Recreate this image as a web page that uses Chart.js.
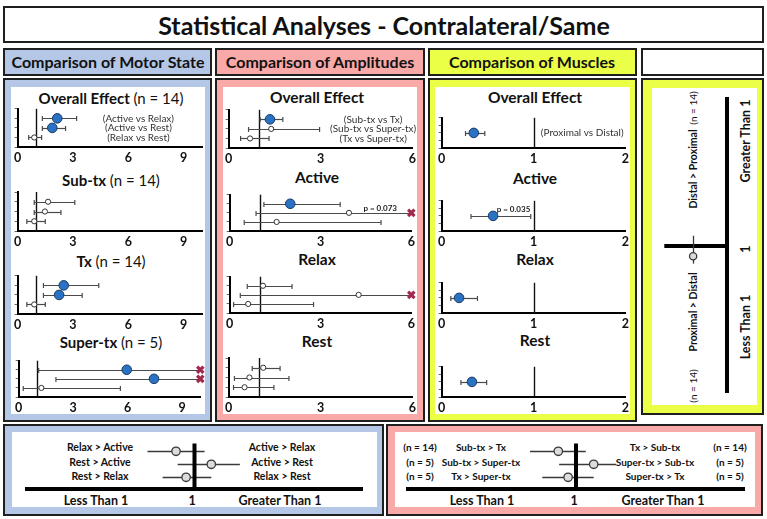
<!DOCTYPE html>
<html><head><meta charset="utf-8">
<script src="https://cdn.jsdelivr.net/npm/chart.js@4.4.1/dist/chart.umd.min.js"></script>
<style>
body{margin:0;width:767px;height:519px;position:relative;background:#fff;font-family:Lato,"Noto Sans",sans-serif;overflow:hidden;color:#111;}
.box{position:absolute;box-sizing:border-box;border:2px solid #1f1f1f;}
.inner{position:absolute;background:#fff;}
.lbl{position:absolute;white-space:nowrap;transform:translate(-50%,-50%);line-height:1;}
.rot{position:absolute;white-space:nowrap;transform:translate(-50%,-50%) rotate(-90deg);line-height:1;}
.b{font-weight:bold;}
.n{font-weight:normal;}
canvas{position:absolute;}
</style></head><body>
<div class="box" style="left:3px;top:6px;width:761px;height:37px;background:#fff"></div>
<div class="lbl b" style="left:384px;top:25px;font-size:25px;">Statistical Analyses - Contralateral/Same</div>

<div class="box" style="left:3px;top:48px;width:209px;height:28px;background:#b4c7e7"></div>
<div class="box" style="left:215px;top:48px;width:210px;height:28px;background:#f8a9a8"></div>
<div class="box" style="left:428px;top:48px;width:209px;height:28px;background:#ebff47"></div>
<div class="box" style="left:641px;top:48px;width:123px;height:28px;background:#fff"></div>
<div class="lbl b" style="left:108px;top:62px;font-size:16px;">Comparison of Motor State</div>
<div class="lbl b" style="left:320px;top:62px;font-size:16px;">Comparison of Amplitudes</div>
<div class="lbl b" style="left:532px;top:62px;font-size:16px;">Comparison of Muscles</div>

<div class="box" style="left:3px;top:78px;width:209px;height:344px;background:#b4c7e7"><div class="inner" style="left:6px;top:7px;right:5px;bottom:6px"></div></div>
<div class="box" style="left:215px;top:78px;width:210px;height:344px;background:#f8a9a8"><div class="inner" style="left:6px;top:7px;right:6px;bottom:6px"></div></div>
<div class="box" style="left:428px;top:78px;width:209px;height:344px;background:#ebff47"><div class="inner" style="left:5px;top:7px;right:5px;bottom:6px"></div></div>
<div class="box" style="left:641px;top:78px;width:123px;height:337px;background:#ebff47"><div class="inner" style="left:9px;top:8px;right:5px;bottom:8px"></div></div>

<div class="box" style="left:3px;top:424px;width:381px;height:92px;background:#b4c7e7"><div class="inner" style="left:7px;top:6px;right:5px;bottom:7px"></div></div>
<div class="box" style="left:386px;top:424px;width:377px;height:92px;background:#f8a9a8"><div class="inner" style="left:7px;top:6px;right:6px;bottom:7px"></div></div>

<div id="texts"></div>

<script>
// ---------------- DATA ----------------
const xTicksMotor = [0, 3, 6, 9];
const xTicksAmp = [0, 3, 6];
const xTicksMuscle = [0, 1, 2];

const motorTitles = ['Overall Effect', 'Sub-tx', 'Tx', 'Super-tx'];
const motorN = ['(n = 14)', '(n = 14)', '(n = 14)', '(n = 5)'];
const motorRowLabels = ['(Active vs Relax)', '(Active vs Rest)', '(Relax vs Rest)'];
const motorOverallEst = [2.15, 1.88, 0.90];
const motorOverallLo  = [1.34, 1.34, 0.60];
const motorOverallHi  = [3.20, 2.60, 1.30];
const motorOverallSig = [true, true, false];
const motorSubEst = [1.65, 1.48, 0.90];
const motorSubLo  = [0.90, 0.90, 0.50];
const motorSubHi  = [3.10, 2.35, 1.50];
const motorSubSig = [false, false, false];
const motorTxEst = [2.50, 2.25, 0.90];
const motorTxLo  = [1.40, 1.40, 0.50];
const motorTxHi  = [4.40, 3.50, 1.50];
const motorTxSig = [true, true, false];
const motorSuperEst = [5.95, 7.45, 1.25];
const motorSuperLo  = [1.10, 2.05, 0.25];
const motorSuperHi  = [11.5, 12.5, 5.60];
const motorSuperSig = [true, true, false];

const ampTitles = ['Overall Effect', 'Active', 'Relax', 'Rest'];
const ampRowLabels = ['(Sub-tx vs Tx)', '(Sub-tx vs Super-tx)', '(Tx vs Super-tx)'];
const ampOverallEst = [1.35, 1.39, 0.70];
const ampOverallLo  = [1.03, 0.65, 0.39];
const ampOverallHi  = [1.77, 2.97, 1.32];
const ampOverallSig = [true, false, false];
const ampActiveEst = [2.00, 3.94, 1.55];
const ampActiveLo  = [1.13, 0.87, 0.48];
const ampActiveHi  = [3.65, 6.80, 5.00];
const ampActiveSig = [true, false, false];
const ampRelaxEst = [1.10, 4.26, 0.61];
const ampRelaxLo  = [0.58, 0.35, 0.13];
const ampRelaxHi  = [2.06, 6.80, 2.77];
const ampRelaxSig = [false, false, false];
const ampRestEst = [1.13, 0.68, 0.52];
const ampRestLo  = [0.77, 0.19, 0.16];
const ampRestHi  = [1.68, 1.97, 1.48];
const ampRestSig = [false, false, false];

const muscleTitles = ['Overall Effect', 'Active', 'Relax', 'Rest'];
const muscleRowLabels = ['(Proximal vs Distal)'];
const muscleOverallEst = [0.35], muscleOverallLo = [0.26], muscleOverallHi = [0.47];
const muscleActiveEst = [0.56],  muscleActiveLo = [0.32],  muscleActiveHi = [0.97];
const muscleRelaxEst = [0.19],   muscleRelaxLo = [0.10],   muscleRelaxHi = [0.39];
const muscleRestEst = [0.33],    muscleRestLo = [0.21],    muscleRestHi = [0.49];
const muscleSig = [true];

const pAmpActive = 'p = 0.073';
const pMuscleActive = 'p = 0.035';

// legend schematics
const keyMotorLeft  = ['Relax > Active', 'Rest > Active', 'Rest > Relax'];
const keyMotorRight = ['Active > Relax', 'Active > Rest', 'Relax > Rest'];
const keyMotorEst = [0.89, 1.10, 0.95];
const keyMotorLo  = [0.72, 0.90, 0.81];
const keyMotorHi  = [1.06, 1.27, 1.10];
const keyAmpNLeft  = ['(n = 14)', '(n = 5)', '(n = 5)'];
const keyAmpLeft   = ['Sub-tx > Tx', 'Sub-tx > Super-tx', 'Tx > Super-tx'];
const keyAmpRight  = ['Tx > Sub-tx', 'Super-tx > Sub-tx', 'Super-tx > Tx'];
const keyAmpNRight = ['(n = 14)', '(n = 5)', '(n = 5)'];
const keyAmpEst = [0.895, 1.105, 0.953];
const keyAmpLo  = [0.727, 0.900, 0.800];
const keyAmpHi  = [1.058, 1.238, 1.105];
const keyMuscleEst = [0.93], keyMuscleLo = [0.88], keyMuscleHi = [1.07];
const axisWords = ['Less Than 1', '1', 'Greater Than 1'];

// ---------------- HELPERS ----------------
const FONT = 'Lato, "Noto Sans", sans-serif';
const texts = document.getElementById('texts');
function esc(t) { return t.replace(/>/g, '&gt;'); }
function label(x, y, html, size, cls, rot) {
  const d = document.createElement('div');
  d.className = (rot ? 'rot ' : 'lbl ') + (cls || '');
  d.style.left = x + 'px'; d.style.top = y + 'px'; d.style.fontSize = size + 'px';
  d.innerHTML = html;
  texts.appendChild(d);
}
function mkCanvas(left, top, w, h) {
  const c = document.createElement('canvas');
  c.width = w; c.height = h;
  c.style.left = left + 'px'; c.style.top = top + 'px';
  c.style.width = w + 'px'; c.style.height = h + 'px';
  document.body.appendChild(c);
  return c;
}
function line(ctx, x1, y1, x2, y2) { ctx.beginPath(); ctx.moveTo(x1, y1); ctx.lineTo(x2, y2); ctx.stroke(); }

function forest(ca, s) {
  const yW = 5, padT = 4, padR = 6, xH = 18;
  const left = ca.l - yW, top = ca.t - padT;
  const w = ca.r + padR - left, h = ca.b + xH - top;
  const c = mkCanvas(left, top, w, h);
  const n = s.est.length;
  const ymax = n === 1 ? 2 : 4;
  const pts = s.est.map((v, i) => ({ x: v, y: i + 1 }));
  const clipped = [];
  s.hi.forEach((v, i) => { if (v > s.max) clipped.push({ x: s.max, y: i + 1 }); });
  const plug = {
    id: 'forestBars',
    beforeDatasetsDraw(chart) {
      const { ctx, chartArea: a, scales: { x, y } } = chart;
      ctx.save();
      ctx.strokeStyle = '#111'; ctx.lineWidth = 1.4;
      const rx = Math.round(x.getPixelForValue(1)) + 0.5;
      line(ctx, rx, a.top, rx, a.bottom);
      ctx.strokeStyle = '#4a4a4a'; ctx.lineWidth = 1.2;
      s.est.forEach((v, i) => {
        const py = Math.round(y.getPixelForValue(i + 1)) + 0.5;
        const lo = s.lo[i], hi = s.hi[i];
        const x1 = x.getPixelForValue(Math.max(lo, x.min));
        const x2 = x.getPixelForValue(Math.min(hi, x.max));
        line(ctx, x1, py, x2, py);
        if (lo >= x.min) line(ctx, x1, py - 2.5, x1, py + 2.5);
        if (hi <= x.max) line(ctx, x2, py - 2.5, x2, py + 2.5);
      });
      ctx.restore();
    },
    afterDatasetsDraw(chart) {
      const { ctx, scales: { x, y } } = chart;
      ctx.save();
      if (s.rowLabels) {
        ctx.fillStyle = '#333'; ctx.font = '10px ' + FONT;
        ctx.textAlign = 'center'; ctx.textBaseline = 'middle';
        s.rowLabels.forEach((t, i) => ctx.fillText(t, x.getPixelForValue(s.labelX), y.getPixelForValue(i + 1)));
      }
      if (s.note) {
        ctx.fillStyle = '#222'; ctx.font = 'bold 8px ' + FONT;
        ctx.textAlign = 'left'; ctx.textBaseline = 'middle';
        ctx.fillText(s.note.text, x.getPixelForValue(s.note.x), y.getPixelForValue(s.note.y));
      }
      ctx.restore();
    }
  };
  new Chart(c, {
    type: 'scatter',
    data: { datasets: [
      { data: pts, clip: false,
        pointRadius: (cx) => s.sig[cx.dataIndex] ? 4.8 : 2.6,
        pointBackgroundColor: (cx) => s.sig[cx.dataIndex] ? '#2a72c4' : '#fff',
        pointBorderColor: (cx) => s.sig[cx.dataIndex] ? '#1b3a61' : '#333',
        pointBorderWidth: 1 },
      { data: clipped, clip: false, pointStyle: 'crossRot', pointRadius: 4.5, pointBorderWidth: 3.2,
        pointBorderColor: '#a3284d', pointBackgroundColor: '#a3284d' }
    ] },
    options: {
      responsive: false, animation: false, devicePixelRatio: 1,
      layout: { padding: { left: 0, top: padT, right: padR, bottom: 0 } },
      plugins: { legend: { display: false }, tooltip: { enabled: false } },
      scales: {
        x: { type: 'linear', min: 0, max: s.max,
          afterBuildTicks: (sc) => { sc.ticks = s.ticks.map(v => ({ value: v })); },
          afterFit: (sc) => { sc.height = xH; },
          grid: { display: false, drawTicks: false },
          border: { display: true, color: '#000', width: 2 },
          ticks: { padding: 3, color: '#111', font: { family: FONT, weight: 'bold', size: 12.5 } } },
        y: { type: 'linear', min: 0, max: ymax, reverse: true,
          afterBuildTicks: (sc) => { const t = []; for (let v = 0; v <= ymax; v += (n === 1 ? 0.5 : 1)) t.push({ value: v }); sc.ticks = t; },
          afterFit: (sc) => { sc.width = yW; },
          grid: { drawOnChartArea: false, drawTicks: true, tickLength: 3, color: '#666', lineWidth: 1 },
          border: { display: true, color: '#000', width: 2 },
          ticks: { display: false } }
      }
    },
    plugins: [plug]
  });
}

function keyChart(ca, est, lo, hi) {
  const c = mkCanvas(ca.l, ca.t, ca.r - ca.l + 4, ca.b - ca.t + 6);
  const plug = {
    id: 'keyBars',
    beforeDatasetsDraw(chart) {
      const { ctx, chartArea: a, scales: { x, y } } = chart;
      ctx.save();
      ctx.strokeStyle = '#3a3a3a'; ctx.lineWidth = 1.3;
      est.forEach((v, i) => {
        const py = Math.round(y.getPixelForValue(i + 1)) + 0.5;
        line(ctx, x.getPixelForValue(lo[i]), py, x.getPixelForValue(hi[i]), py);
      });
      ctx.strokeStyle = '#000'; ctx.lineWidth = 4;
      const rx = x.getPixelForValue(1);
      line(ctx, rx, a.top, rx, a.bottom + 2);
      ctx.restore();
    }
  };
  new Chart(c, {
    type: 'scatter',
    data: { datasets: [{ data: est.map((v, i) => ({ x: v, y: i + 1 })), clip: false,
      pointRadius: 4.2, pointBackgroundColor: '#dcdcdc', pointBorderColor: '#3a3a3a', pointBorderWidth: 1.3 }] },
    options: {
      responsive: false, animation: false, devicePixelRatio: 1,
      layout: { padding: { left: 0, top: 0, right: 4, bottom: 0 } },
      plugins: { legend: { display: false }, tooltip: { enabled: false } },
      scales: {
        x: { type: 'linear', min: 0, max: 2, afterFit: (sc) => { sc.height = 6; },
          grid: { display: false, drawTicks: false }, ticks: { display: false },
          border: { display: true, color: '#000', width: 4 } },
        y: { type: 'linear', min: 0.4, max: 3.9, reverse: true, display: false }
      }
    },
    plugins: [plug]
  });
}

function muscleKey(ca, est, lo, hi) {
  const c = mkCanvas(ca.l, ca.t - 2, ca.r - ca.l + 6, ca.b - ca.t + 4);
  const plug = {
    id: 'muscleKey',
    beforeDatasetsDraw(chart) {
      const { ctx, chartArea: a, scales: { x, y } } = chart;
      ctx.save();
      ctx.strokeStyle = '#000'; ctx.lineWidth = 4;
      const ry = y.getPixelForValue(1);
      line(ctx, a.left, ry, a.right, ry);
      ctx.strokeStyle = '#3a3a3a'; ctx.lineWidth = 1.3;
      est.forEach((v, i) => {
        const px = Math.round(x.getPixelForValue(0.46)) + 0.5;
        line(ctx, px, y.getPixelForValue(lo[i]), px, y.getPixelForValue(hi[i]));
      });
      ctx.restore();
    }
  };
  new Chart(c, {
    type: 'scatter',
    data: { datasets: [{ data: est.map((v) => ({ x: 0.46, y: v })), clip: false,
      pointRadius: 3.6, pointBackgroundColor: '#dcdcdc', pointBorderColor: '#3a3a3a', pointBorderWidth: 1.3 }] },
    options: {
      responsive: false, animation: false, devicePixelRatio: 1,
      layout: { padding: { left: 0, top: 2, right: 2, bottom: 2 } },
      plugins: { legend: { display: false }, tooltip: { enabled: false } },
      scales: {
        x: { type: 'linear', min: 0, max: 1, display: false },
        y: { type: 'linear', min: 0, max: 2, position: 'right', afterFit: (sc) => { sc.width = 4; },
          grid: { display: false, drawTicks: false }, ticks: { display: false },
          border: { display: true, color: '#000', width: 4 } }
      }
    },
    plugins: [plug]
  });
}

// ---------------- MOTOR STATE ----------------
const motorSets = [
  [motorOverallEst, motorOverallLo, motorOverallHi, motorOverallSig],
  [motorSubEst, motorSubLo, motorSubHi, motorSubSig],
  [motorTxEst, motorTxLo, motorTxHi, motorTxSig],
  [motorSuperEst, motorSuperLo, motorSuperHi, motorSuperSig]
];
const motorTops = [107, 191, 274, 357];
const motorTitleY = [98, 180, 261, 342];
motorSets.forEach((d, k) => {
  label(111, motorTitleY[k], motorTitles[k] + ' <span class="n">' + motorN[k] + '</span>', 15, 'b');
  forest({ l: 16, r: 202, t: motorTops[k], b: motorTops[k] + 40 },
    { est: d[0], lo: d[1], hi: d[2], sig: d[3], max: 10, ticks: xTicksMotor,
      rowLabels: k === 0 ? motorRowLabels : null, labelX: 6.55 });
});

// ---------------- AMPLITUDES ----------------
const ampSets = [
  [ampOverallEst, ampOverallLo, ampOverallHi, ampOverallSig],
  [ampActiveEst, ampActiveLo, ampActiveHi, ampActiveSig],
  [ampRelaxEst, ampRelaxLo, ampRelaxHi, ampRelaxSig],
  [ampRestEst, ampRestLo, ampRestHi, ampRestSig]
];
const ampTops = [108, 191, 273, 357];
const ampTitleY = [98, 178, 260, 342];
ampSets.forEach((d, k) => {
  label(317, ampTitleY[k], ampTitles[k], 15.5, 'b');
  forest({ l: 227, r: 413, t: ampTops[k], b: ampTops[k] + 40 },
    { est: d[0], lo: d[1], hi: d[2], sig: d[3], max: 6, ticks: xTicksAmp,
      rowLabels: k === 0 ? ampRowLabels : null, labelX: 4.72,
      note: k === 1 ? { text: pAmpActive, x: 4.42, y: 1.5 } : null });
});

// ---------------- MUSCLES ----------------
const muscleSets = [
  [muscleOverallEst, muscleOverallLo, muscleOverallHi],
  [muscleActiveEst, muscleActiveLo, muscleActiveHi],
  [muscleRelaxEst, muscleRelaxLo, muscleRelaxHi],
  [muscleRestEst, muscleRestLo, muscleRestHi]
];
const muscleTops = [116, 199, 281, 365];
const muscleTitleY = [98, 179, 260, 341];
muscleSets.forEach((d, k) => {
  label(535, muscleTitleY[k], muscleTitles[k], 15.5, 'b');
  forest({ l: 440, r: 626, t: muscleTops[k], b: muscleTops[k] + 32 },
    { est: d[0], lo: d[1], hi: d[2], sig: muscleSig, max: 2, ticks: xTicksMuscle,
      rowLabels: k === 0 ? muscleRowLabels : null, labelX: 1.53,
      note: k === 1 ? { text: pMuscleActive, x: 0.6, y: 0.55 } : null });
});

// ---------------- RIGHT KEY (muscles) ----------------
muscleKey({ l: 659, r: 727, t: 96, b: 396 }, keyMuscleEst, keyMuscleLo, keyMuscleHi);
label(693, 169, 'Distal &gt; Proximal', 10.5, 'b', true);
label(693, 108, '(n = 14)', 10, '', true);
label(693, 312, 'Proximal &gt; Distal', 10.5, 'b', true);
label(693, 386, '(n = 14)', 10, '', true);
label(746, 141, 'Greater Than 1', 12.5, 'b', true);
label(746, 249, '1', 12.5, 'b', true);
label(746, 327, 'Less Than 1', 12.5, 'b', true);

// ---------------- BOTTOM KEYS ----------------
const keyRowsY = [447, 462, 476];
keyChart({ l: 21, r: 364, t: 438, b: 489 }, keyMotorEst, keyMotorLo, keyMotorHi);
keyRowsY.forEach((y, i) => {
  label(100, y, esc(keyMotorLeft[i]), 10.5, 'b');
  label(282, y, esc(keyMotorRight[i]), 10.5, 'b');
});
label(96, 501, axisWords[0], 12.5, 'b');
label(192, 501, axisWords[1], 12.5, 'b');
label(280, 501, axisWords[2], 12.5, 'b');

keyChart({ l: 402, r: 746, t: 438, b: 489 }, keyAmpEst, keyAmpLo, keyAmpHi);
keyRowsY.forEach((y, i) => {
  label(420, y, keyAmpNLeft[i], 10, 'b');
  label(481, y, esc(keyAmpLeft[i]), 10, 'b');
  label(655, y, esc(keyAmpRight[i]), 10, 'b');
  label(730, y, keyAmpNRight[i], 10, 'b');
});
label(482, 501, axisWords[0], 12.5, 'b');
label(574, 501, axisWords[1], 12.5, 'b');
label(663, 501, axisWords[2], 12.5, 'b');
</script>
</body></html>
